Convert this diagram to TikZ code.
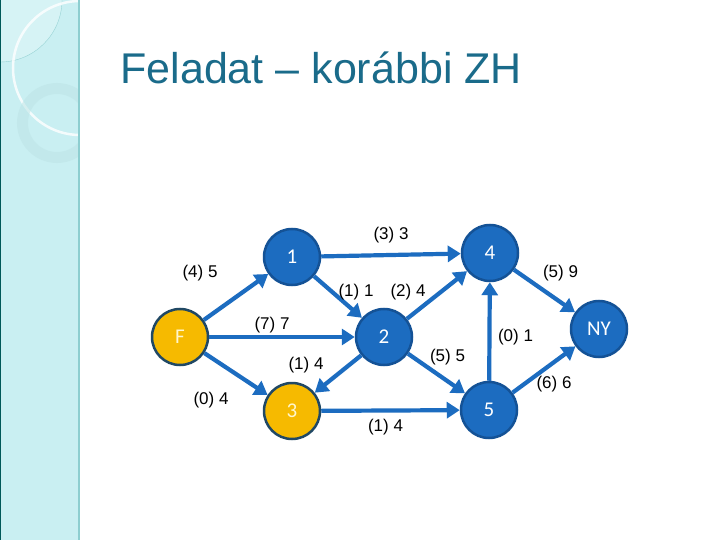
\documentclass[tikz,border=0pt]{standalone}
\usepackage{fontspec}
\setmainfont{Liberation Sans}
\newfontfamily\csucsfont{Carlito}
\usepackage{tikz}
\usetikzlibrary{arrows.meta}

\definecolor{kek}{RGB}{28,108,192}
\definecolor{kekkeret}{RGB}{20,82,150}
\definecolor{sarga}{RGB}{246,186,0}
\definecolor{sargakeret}{RGB}{32,72,100}
\definecolor{cim}{RGB}{26,107,138}
\definecolor{panel}{RGB}{201,239,242}

\begin{document}
\begin{tikzpicture} [x=1pt, y=-1pt, thick,
                    csucs/.style={circle,draw=kekkeret,fill=kek,line width=2.5pt,minimum size=56pt,
                                  inner sep=0pt,text=white,font=\csucsfont\fontsize{21}{21}\selectfont},
                    veg/.style={csucs,draw=sargakeret,fill=sarga,text={rgb,255:red,255;green,246;blue,205}},
                    nyil/.style={color=kek,draw,line width=4.2pt,-{Triangle[length=13pt,width=16pt]}},
                    suly/.style={font=\fontsize{17}{17}\selectfont,inner sep=0pt,text=black}]

% hatter
\useasboundingbox (0,0) rectangle (720,540);
\fill[white] (0,0) rectangle (720,540);
\begin{scope}
  \clip (0,0) rectangle (79,540);
  \fill[panel] (0,0) rectangle (79,540);
  \fill[white!25!panel] (0,0) circle (62);
  \draw[panel!75!teal,line width=0.4pt] (0,0) circle (62);
  \draw[white,line width=2.5pt,opacity=0.8] (80,68) circle (67);
  \draw[panel!80!teal!70,line width=11pt,opacity=0.55] (57,123) circle (34.5);
\end{scope}
\draw[panel!70!teal,line width=2pt] (79,0) -- (79,540);
\draw[teal!70!black,line width=1.2pt] (0.6,0) -- (0.6,540);

\node[anchor=base west,inner sep=0pt,text=cim,font=\fontsize{43}{43}\selectfont] (cim) at (120,84) {Feladat -- korábbi ZH};

\node[veg] (F) at (180,337) {F};
\node[csucs] (1) at (292,257) {1};
\node[csucs] (2) at (384,337) {2};
\node[veg] (3) at (292,411) {3};
\node[csucs] (4) at (490,253) {4};
\node[csucs] (5) at (489,410) {5};
\node[csucs] (NY) at (599,329) {NY};

 \path[nyil, every node/.style={suly}]
    (F) edge node[xshift=-36pt, yshift=24pt] {(4) 5} (1)
    (F) edge node[xshift=-10pt, yshift=12pt] {(7) 7} (2)
    (F) edge node[xshift=-25pt, yshift=-26pt] {(0) 4} (3)
    (1) edge node[yshift=20pt] {(3) 3} (4)
    (1) edge node[xshift=18pt, yshift=5pt] {(1) 1} (2)
    (2) edge node[xshift=-29pt, yshift=3pt] {(2) 4} (4)
    (2) edge node[xshift=-32pt, yshift=9pt] {(1) 4} (3)
    (2) edge node[xshift=11pt, yshift=16pt] {(5) 5} (5)
    (3) edge node[xshift=-5pt, yshift=-17pt] {(1) 4} (5)
    (5) edge node[xshift=26pt, yshift=-6pt] {(0) 1} (4)
    (4) edge node[xshift=16pt, yshift=18pt] {(5) 9} (NY)
    (5) edge node[xshift=10pt, yshift=-15pt] {(6) 6} (NY);
\end{tikzpicture}
\end{document}
